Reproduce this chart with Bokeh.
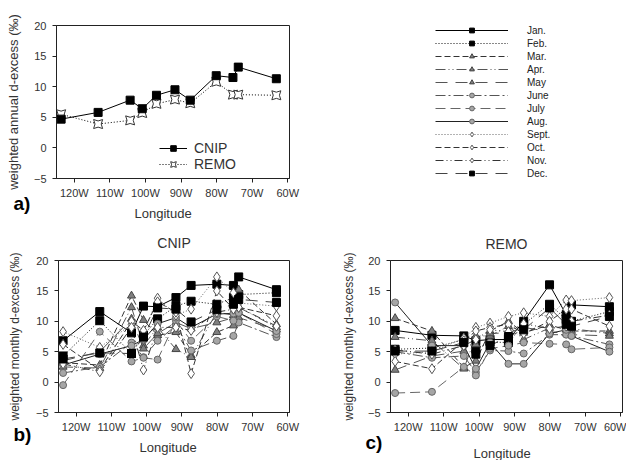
from bokeh.plotting import figure
from bokeh.layouts import column, row
from bokeh.models import Range1d, FixedTicker, Legend, LegendItem, Title
from bokeh.embed import file_html
from bokeh.resources import INLINE

# ---------------- data ----------------
longitudes = [-123.7, -113.3, -104.3, -100.9, -96.9, -91.7, -87.4, -80.1, -75.4, -73.9, -63.2]
x_tick_values = [-120, -110, -100, -90, -80, -70, -60]
x_tick_labels = ["120W", "110W", "100W", "90W", "80W", "70W", "60W"]
y_tick_values = [-5, 0, 5, 10, 15, 20]

annual_cnip = [4.7, 5.8, 7.8, 6.4, 8.6, 9.5, 7.8, 11.8, 11.5, 13.2, 11.3]
annual_remo = [5.5, 3.9, 4.5, 5.7, 7.2, 7.9, 7.3, 10.8, 8.7, 8.7, 8.6]

month_names = ["Jan.", "Feb.", "Mar.", "Apr.", "May", "June", "July", "Aug.", "Sept.", "Oct.", "Nov.", "Dec."]

cnip_jan = [6.8, 11.6, 8.1, 12.5, 12.4, 13.9, 15.9, 16.1, 15.9, 17.3, 15.2]
cnip_feb = [4.3, 10.1, 4.7, 7.7, 10.4, 12.5, 13.3, 12.8, 13.9, 14.4, 14.7]
cnip_mar = [3.2, 2.8, 14.2, 10.2, 7.7, 8.2, 4.4, 8.2, 9.3, 15.2, 9.5]
cnip_apr = [2.5, 2.3, 12.3, 6.0, 9.0, 5.4, 4.1, 11.5, 11.0, 12.3, 9.0]
cnip_may = [3.5, 5.0, 10.4, 5.5, 8.0, 9.8, 8.8, 9.8, 10.6, 10.6, 8.6]
cnip_jun = [1.5, 2.5, 6.5, 4.1, 6.8, 9.3, 5.2, 6.8, 7.6, 9.8, 7.4]
cnip_jul = [-0.5, 8.3, 3.4, 4.0, 3.7, 10.1, 6.8, 10.8, 10.1, 11.4, 7.9]
cnip_aug = [2.8, 4.6, 6.0, 7.0, 9.6, 10.6, 9.0, 11.2, 11.3, 11.4, 8.4]
cnip_sep = [8.3, 5.7, 9.5, 8.0, 13.8, 11.0, 12.0, 17.3, 14.7, 13.0, 12.5]
cnip_oct = [6.2, 2.0, 10.0, 8.5, 13.2, 11.5, 1.4, 15.0, 12.0, 12.3, 10.9]
cnip_nov = [3.0, 1.7, 9.0, 2.0, 9.0, 9.0, 8.5, 11.5, 12.0, 12.3, 9.2]
cnip_dec = [3.8, 4.8, 4.7, 7.4, 12.2, 12.0, 9.9, 11.9, 12.8, 13.6, 13.1]

remo_jan = [8.5, 7.7, 7.6, 6.8, 7.0, 7.0, 10.0, 16.0, 11.1, 12.7, 12.4]
remo_feb = [5.4, 5.6, 7.0, 5.4, 6.6, 6.5, 9.5, 12.8, 10.3, 10.0, 11.6]
remo_mar = [10.5, 8.4, 2.4, 3.5, 8.4, 10.0, 8.1, 9.4, 8.6, 8.4, 8.4]
remo_apr = [7.4, 6.8, 2.2, 7.6, 7.6, 9.2, 7.0, 8.9, 9.0, 8.8, 8.0]
remo_may = [2.0, 4.3, 5.1, 6.2, 8.0, 8.1, 9.0, 8.3, 8.0, 7.8, 7.6]
remo_jun = [5.0, 4.0, 4.3, 1.6, 5.2, 5.1, 4.7, 7.8, 7.8, 7.6, 6.2]
remo_jul = [-1.8, -1.6, 2.5, 1.1, 5.5, 6.0, 6.5, 6.3, 6.2, 5.4, 5.7]
remo_aug = [13.1, 6.0, 6.0, 2.2, 6.5, 3.0, 3.0, 8.0, 8.6, 7.6, 5.0]
remo_sep = [4.6, 5.0, 7.2, 9.0, 9.7, 10.8, 11.4, 10.8, 13.5, 13.4, 13.9]
remo_oct = [3.4, 2.2, 6.8, 8.4, 9.0, 9.5, 8.0, 10.0, 12.0, 12.0, 9.2]
remo_nov = [5.3, 4.6, 6.0, 7.0, 8.6, 8.3, 9.6, 8.8, 9.2, 10.0, 11.0]
remo_dec = [5.1, 5.1, 6.5, 4.6, 6.0, 7.5, 8.6, 12.2, 9.5, 9.2, 10.8]

cnip_months = [cnip_jan, cnip_feb, cnip_mar, cnip_apr, cnip_may, cnip_jun,
               cnip_jul, cnip_aug, cnip_sep, cnip_oct, cnip_nov, cnip_dec]
remo_months = [remo_jan, remo_feb, remo_mar, remo_apr, remo_may, remo_jun,
               remo_jul, remo_aug, remo_sep, remo_oct, remo_nov, remo_dec]

# ---------------- styles ----------------
FONT = "Liberation Sans"
TXT = "#333333"
SQ = dict(marker="square", fill_color="black", line_color="black", size=8)
TRI = dict(marker="triangle", fill_color="#7f7f7f", line_color="#444444", size=8)
CIR = dict(marker="circle", fill_color="#a6a6a6", line_color="#666666", size=7)
DIA = dict(marker="diamond", fill_color="white", line_color="#555555", size=10)
month_markers = [SQ, SQ, TRI, TRI, TRI, CIR, CIR, CIR, DIA, DIA, DIA, SQ]
month_dashes = ["solid", "1 2", "6 3", "10 3 1 3 1 3", "12 8", "10 3 2 3", "10 5",
                "solid", "1 2", "6 3", "8 3 1 3 1 3", "12 8"]
month_line_colors = ["#000000", "#111111", "#333333", "#555555", "#555555", "#555555",
                     "#666666", "#222222", "#666666", "#333333", "#333333", "#444444"]


def style(p, ylabel, ylabel_standoff):
    p.xaxis.ticker = FixedTicker(ticks=x_tick_values)
    p.xaxis.major_label_overrides = dict(zip(x_tick_values, x_tick_labels))
    p.yaxis.ticker = FixedTicker(ticks=y_tick_values)
    p.xgrid.visible = False
    p.ygrid.visible = False
    p.yaxis.axis_label = ylabel
    for ax in (p.xaxis[0], p.yaxis[0]):
        ax.minor_tick_line_color = None
        ax.major_tick_in = 0
        ax.major_tick_out = 4
        ax.axis_line_color = "#222222"
        ax.major_tick_line_color = "#222222"
        ax.major_label_text_font = FONT
        ax.major_label_text_font_size = "11px"
        ax.major_label_text_color = TXT
        ax.axis_label_text_font = FONT
        ax.axis_label_text_font_size = "13px"
        ax.axis_label_text_font_style = "normal"
        ax.axis_label_text_color = TXT
    p.yaxis.major_label_standoff = 6
    p.yaxis.axis_label_standoff = ylabel_standoff
    p.xaxis.major_label_standoff = 4
    p.outline_line_color = "#222222"
    p.outline_line_alpha = 1.0
    p.border_fill_color = "white"
    p.background_fill_color = "white"


def bottom_texts(p, letter, letter_offset, letter_standoff, lon_offset, lon_standoff):
    # panel letter and the x axis title, stacked under the x axis
    p.add_layout(Title(text=letter, align="left", vertical_align="top",
                       offset=letter_offset, standoff=letter_standoff,
                       text_font=FONT, text_font_size="19px", text_font_style="bold",
                       text_color="black"), "below")
    p.add_layout(Title(text="Longitude", align="left", vertical_align="top",
                       offset=lon_offset, standoff=lon_standoff,
                       text_font=FONT, text_font_size="13px", text_font_style="normal",
                       text_color=TXT), "below")


# ---------------- panel a ----------------
pa = figure(width=318, height=222, x_range=Range1d(-125, -59.5), y_range=Range1d(-5, 20),
            output_backend="svg", toolbar_location=None,
            min_border_left=56, min_border_right=29, min_border_top=25, min_border_bottom=44)
style(pa, "weighted annual d-excess (\u2030)", 10)
rl = pa.line(longitudes, annual_remo, line_color="black", line_dash="1 2", line_width=1)
rs = pa.scatter(longitudes, annual_remo, marker="square_pin", size=9,
                fill_color="white", line_color="#333333")
cl = pa.line(longitudes, annual_cnip, line_color="black", line_width=1)
cs = pa.scatter(longitudes, annual_cnip, marker="square", size=8,
                fill_color="black", line_color="black")
leg_a = Legend(items=[LegendItem(label="CNIP", renderers=[cl, cs]),
                      LegendItem(label="REMO", renderers=[rl, rs])],
               location=(103, 6), glyph_width=28, glyph_height=14, label_height=14,
               spacing=0, padding=0, margin=0, border_line_color=None,
               background_fill_alpha=0, label_text_font=FONT, label_text_font_size="14px",
               label_text_color=TXT, label_standoff=7)
pa.add_layout(leg_a)
bottom_texts(pa, "a)", -43, -18, 78, -1)

# ---------------- legend panel ----------------
pl = figure(width=308, height=222, x_range=Range1d(0, 1), y_range=Range1d(0, 1),
            x_axis_location=None, y_axis_location=None,
            output_backend="svg", toolbar_location=None,
            min_border_left=117, min_border_top=0, min_border_right=2, min_border_bottom=0)
pl.grid.visible = False
pl.outline_line_color = None
items = []
for name, vals, mk, dash, lc in zip(month_names, cnip_months, month_markers,
                                     month_dashes, month_line_colors):
    # drawn outside the visible range: only their legend glyphs are seen
    ln = pl.line(longitudes, vals, line_color=lc, line_dash=dash, line_width=1)
    sc = pl.scatter(longitudes, vals, marker=mk["marker"], fill_color=mk["fill_color"],
                    line_color=mk["line_color"], size=mk["size"] - 1)
    items.append(LegendItem(label=name, renderers=[ln, sc]))
leg_m = Legend(items=items, location=(0, -1), glyph_width=73, glyph_height=12,
               label_height=12, spacing=1, padding=0, margin=0, border_line_color=None,
               background_fill_alpha=0, label_text_font=FONT, label_text_font_size="10px",
               label_text_color="#222222", label_standoff=19)
pl.add_layout(leg_m)


# ---------------- monthly panels ----------------
def monthly(width, border_left, border_right, border_top, border_bottom, title, data,
            ylabel_standoff, title_standoff):
    p = figure(width=width, height=238, x_range=Range1d(-125, -59.5), y_range=Range1d(-5, 20),
               output_backend="svg", toolbar_location=None,
               min_border_left=border_left, min_border_right=border_right,
               min_border_top=border_top, min_border_bottom=border_bottom)
    style(p, "weighted monthly d-excess (\u2030)", ylabel_standoff)
    p.yaxis.axis_label_text_font_size = "12px"
    p.title.text = title
    p.title.align = "center"
    p.title.vertical_align = "top"
    p.title.text_font = FONT
    p.title.text_font_size = "14px"
    p.title.text_font_style = "normal"
    p.title.text_color = TXT
    p.title.standoff = title_standoff
    for vals, dash, lc in zip(data, month_dashes, month_line_colors):
        p.line(longitudes, vals, line_color=lc, line_dash=dash, line_width=1)
    for vals, mk in zip(data, month_markers):
        p.scatter(longitudes, vals, marker=mk["marker"], fill_color=mk["fill_color"],
                  line_color=mk["line_color"], size=mk["size"])
    return p


pb = monthly(318, 58, 29, 37, 47, "CNIP", cnip_months, 11, 16)
bottom_texts(pb, "b)", -45, -24, 81, 8)
pc = monthly(308, 72, 4, 38, 45, "REMO", remo_months, 9, 14)
bottom_texts(pc, "c)", -25, -8, 83, -10)

layout = column(row(pa, pl), row(pb, pc))
open("out.html", "w").write(file_html(layout, INLINE))
